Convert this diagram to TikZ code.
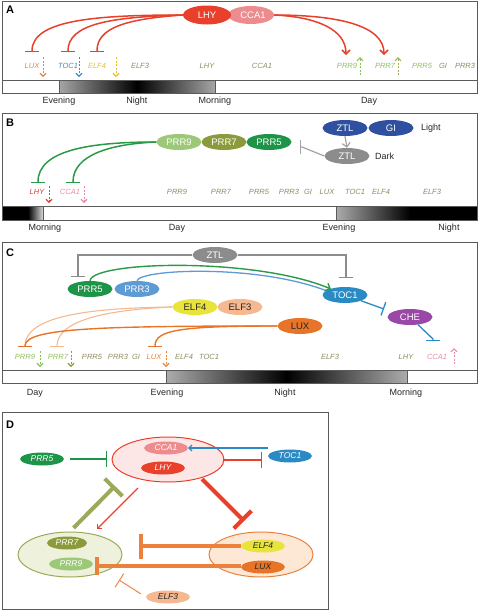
\documentclass[tikz,border=0pt]{standalone}
\usepackage{fontspec}
\setmainfont{Liberation Sans}
\usetikzlibrary{shapes.geometric,arrows.meta}
\definecolor{framec}{HTML}{5A5A5A}
\definecolor{lhyred}{HTML}{E8402A}
\definecolor{ccapink}{HTML}{EC8C8E}
\definecolor{olv}{HTML}{8E8B60}
\definecolor{grnt}{HTML}{8DBF5E}
\definecolor{luxt}{HTML}{E8843A}
\definecolor{toct}{HTML}{3D8CC8}
\definecolor{elf4t}{HTML}{E6C02C}
\definecolor{ccat}{HTML}{E68AA6}
\definecolor{lhyt}{HTML}{D83A30}
\definecolor{ltgreen}{HTML}{9CC878}
\definecolor{prrolive}{HTML}{8C9A3C}
\definecolor{prrgreen}{HTML}{1E9448}
\definecolor{inhgreen}{HTML}{2A9A48}
\definecolor{ztlblue}{HTML}{2F4FA0}
\definecolor{ztlgray}{HTML}{8C8C8C}
\definecolor{tocblue}{HTML}{2A8AC4}
\definecolor{prr3blue}{HTML}{5E9AD4}
\definecolor{elf4yel}{HTML}{E8E43C}
\definecolor{elf3peach}{HTML}{F6B890}
\definecolor{luxor}{HTML}{E87428}
\definecolor{chepur}{HTML}{9A48A8}
\definecolor{pinkfill}{HTML}{FDE6E6}
\definecolor{olivefill}{HTML}{EEF1DC}
\definecolor{orfill}{HTML}{FDE8D6}
\begin{document}
\begin{tikzpicture}[x=1pt,y=-1pt,
  framebox/.style={draw=framec, line width=0.9pt},
  plabel/.style={font=\fontsize{11}{13}\selectfont\bfseries, inner sep=0pt},
  tlabel/.style={font=\fontsize{9}{11}\selectfont, text=black!85, inner sep=0pt},
  gene/.style={font=\fontsize{7.5}{9}\selectfont\itshape, inner sep=0pt},
  prot/.style={ellipse, inner sep=0pt, minimum width=45pt, minimum height=16pt, font=\fontsize{9.5}{11}\selectfont, text=white},
  dprot/.style={ellipse, inner sep=0pt, minimum width=44pt, minimum height=13pt, font=\fontsize{8.5}{10}\selectfont\itshape, text=white},
  bigell/.style={ellipse, inner sep=0pt, line width=1pt, minimum width=104pt, minimum height=45pt},
  inh/.style={-{Bar[width=14pt]}},
  act/.style={-{Straight Barb[length=4pt,width=8pt]}},
  sact/.style={-{Straight Barb[length=3pt,width=6pt]}},
  dashar/.style={dash pattern=on 2pt off 1.5pt, line width=0.9pt, -{Straight Barb[length=3pt,width=6pt,line width=1.1pt]}},
]
\useasboundingbox (0,0) rectangle (479,611);

% ================= Panel A =================
\shade[left color=gray!70, right color=gray!70, middle color=black] (59,80) rectangle (215,93);
\draw[framebox] (2,1) rectangle (477,93);
\draw[framebox] (2,80) -- (477,80);
\draw[framec, line width=0.6pt] (59,80) -- (59,93) (215,80) -- (215,93);
\node[plabel] (labA) at (10,10) {A};
\node[tlabel] (eveA) at (59,101) {Evening};
\node[tlabel] (nigA) at (137,101) {Night};
\node[tlabel] (morA) at (215,101) {Morning};
\node[tlabel] (dayA) at (369,101) {Day};

\node[gene, text=luxt] (gLUXa) at (32,66) {LUX};
\node[gene, text=toct] (gTOCa) at (68,66) {TOC1};
\node[gene, text=elf4t] (gELF4a) at (97,66) {ELF4};
\node[gene, text=olv] (gELF3a) at (140,66) {ELF3};
\node[gene, text=olv] (gLHYa) at (207,66) {LHY};
\node[gene, text=olv] (gCCAa) at (262,66) {CCA1};
\node[gene, text=grnt] (gPRR9a) at (347,66) {PRR9};
\node[gene, text=grnt] (gPRR7a) at (385,66) {PRR7};
\node[gene, text=grnt] (gPRR5a) at (422,66) {PRR5};
\node[gene, text=olv] (gGIa) at (443,66) {GI};
\node[gene, text=olv] (gPRR3a) at (465,66) {PRR3};

\coordinate (dA1s) at (43,57); \coordinate (dA1e) at (43,77);
\coordinate (dA2s) at (79,57); \coordinate (dA2e) at (79,77);
\coordinate (dA3s) at (116,57); \coordinate (dA3e) at (116,77);
\coordinate (dA4s) at (360,75); \coordinate (dA4e) at (360,57);
\coordinate (dA5s) at (398,75); \coordinate (dA5e) at (398,57);
\draw[dashar, luxt] (dA1s) -- (dA1e);
\draw[dashar, toct] (dA2s) -- (dA2e);
\draw[dashar, elf4t] (dA3s) -- (dA3e);
\draw[dashar, grnt] (dA4s) -- (dA4e);
\draw[dashar, prrolive!80] (dA5s) -- (dA5e);

\node[prot, fill=ccapink, minimum width=46pt, minimum height=18pt] (CCAa) at (251,15) {\hspace*{4pt}CCA1};
\node[prot, fill=lhyred, minimum width=48pt, minimum height=19pt] (LHYa) at (207,15) {LHY};

\coordinate (tLUXa) at (32,52);
\coordinate (tTOCa) at (68,52);
\coordinate (tELF4a) at (97,52);
\draw[inh, lhyred, line width=1.5pt] (LHYa.west) .. controls (95,15) and (32,20) .. (tLUXa);
\draw[inh, lhyred, line width=1.5pt] (LHYa.west) .. controls (110,17) and (68,24) .. (tTOCa);
\draw[inh, lhyred, line width=1.5pt] (LHYa.west) .. controls (125,19) and (97,28) .. (tELF4a);
\coordinate (aPRR9a) at (346,55);
\coordinate (aPRR7a) at (384,55);
\draw[act, lhyred, line width=1.5pt] (CCAa.east) .. controls (318,17) and (346,30) .. (aPRR9a);
\draw[act, lhyred, line width=1.5pt] (CCAa.east) .. controls (340,15) and (384,26) .. (aPRR7a);

% ================= Panel B =================
\fill[black] (2,206) rectangle (28,220);
\shade[left color=black, right color=gray!30] (28,206) rectangle (43,220);
\shade[left color=gray!65, right color=black] (336,206) rectangle (410,220);
\fill[black] (410,206) rectangle (477,220);
\draw[framebox] (2,113) rectangle (477,220);
\draw[framebox] (2,206) -- (477,206);
\draw[framec, line width=0.6pt] (43,206) -- (43,220) (336,206) -- (336,220);
\node[plabel] (labB) at (10,123) {B};
\node[tlabel] (morB) at (45,228) {Morning};
\node[tlabel] (dayB) at (177,228) {Day};
\node[tlabel] (eveB) at (339,228) {Evening};
\node[tlabel] (nigB) at (449,228) {Night};

\node[gene, text=lhyt] (gLHYb) at (37,192) {LHY};
\node[gene, text=ccat] (gCCAb) at (70,192) {CCA1};
\node[gene, text=olv] (gPRR9b) at (177,192) {PRR9};
\node[gene, text=olv] (gPRR7b) at (221,192) {PRR7};
\node[gene, text=olv] (gPRR5b) at (259,192) {PRR5};
\node[gene, text=olv] (gPRR3b) at (289,192) {PRR3};
\node[gene, text=olv] (gGIb) at (308,192) {GI};
\node[gene, text=olv] (gLUXb) at (327,192) {LUX};
\node[gene, text=olv] (gTOCb) at (355,192) {TOC1};
\node[gene, text=olv] (gELF4b) at (381,192) {ELF4};
\node[gene, text=olv] (gELF3b) at (432,192) {ELF3};

\coordinate (dB1s) at (49,186); \coordinate (dB1e) at (49,203);
\coordinate (dB2s) at (84,186); \coordinate (dB2e) at (84,203);
\draw[dashar, lhyred] (dB1s) -- (dB1e);
\draw[dashar, ccat] (dB2s) -- (dB2e);

\node[prot, fill=ltgreen] (PRR9b) at (179,142) {PRR9};
\node[prot, fill=prrolive] (PRR7b) at (224,142) {PRR7};
\node[prot, fill=prrgreen] (PRR5b) at (269,142) {PRR5};
\node[prot, fill=ztlblue] (ZTLb) at (345,128) {ZTL};
\node[prot, fill=ztlblue] (GIb) at (391,128) {GI};
\node[tlabel, anchor=west] (lightB) at (421,128) {Light};
\node[prot, fill=ztlgray] (ZTLdb) at (347,156) {ZTL};
\node[tlabel, anchor=west] (darkB) at (375,156) {Dark};
\draw[act, ztlgray!80, line width=1.2pt] (ZTLb.south) -- (ZTLdb.north);
\coordinate (kPRR5b) at (302,147);
\coordinate (tPRR5b) at (300,147);
\draw[inh, ztlgray!80, line width=1.2pt] (ZTLdb.west) -- (kPRR5b) -- (tPRR5b);

\coordinate (tLHYb) at (38,183);
\coordinate (tCCAb) at (73,183);
\draw[inh, inhgreen, line width=1.5pt] (PRR9b.west) .. controls (90,142) and (38,150) .. (tLHYb);
\draw[inh, inhgreen, line width=1.5pt] (PRR9b.west) .. controls (110,144) and (73,155) .. (tCCAb);

% ================= Panel C =================
\shade[left color=gray!65, right color=gray!65, middle color=black] (166,370) rectangle (407,383);
\draw[framebox] (2,242) rectangle (477,383);
\draw[framebox] (2,370) -- (477,370);
\draw[framec, line width=0.6pt] (166,370) -- (166,383) (407,370) -- (407,383);
\node[plabel] (labC) at (10,253) {C};
\node[tlabel] (dayC) at (35,393) {Day};
\node[tlabel] (eveC) at (167,393) {Evening};
\node[tlabel] (nigC) at (285,393) {Night};
\node[tlabel] (morC) at (406,393) {Morning};

\node[gene, text=grnt] (gPRR9c) at (25,357) {PRR9};
\node[gene, text=grnt] (gPRR7c) at (58,357) {PRR7};
\node[gene, text=olv] (gPRR5c) at (92,357) {PRR5};
\node[gene, text=olv] (gPRR3c) at (118,357) {PRR3};
\node[gene, text=olv] (gGIc) at (136,357) {GI};
\node[gene, text=luxt] (gLUXc) at (154,357) {LUX};
\node[gene, text=olv] (gELF4c) at (184,357) {ELF4};
\node[gene, text=olv] (gTOCc) at (209,357) {TOC1};
\node[gene, text=olv] (gELF3c) at (330,357) {ELF3};
\node[gene, text=olv] (gLHYc) at (406,357) {LHY};
\node[gene, text=ccat] (gCCAc) at (437,357) {CCA1};

\coordinate (dC1s) at (40,351); \coordinate (dC1e) at (40,367);
\coordinate (dC2s) at (71,351); \coordinate (dC2e) at (71,367);
\coordinate (dC3s) at (166,351); \coordinate (dC3e) at (166,367);
\coordinate (dC4s) at (454,364); \coordinate (dC4e) at (454,348);
\draw[dashar, grnt] (dC1s) -- (dC1e);
\draw[dashar, prrolive] (dC2s) -- (dC2e);
\draw[dashar, luxt] (dC3s) -- (dC3e);
\draw[dashar, ccat] (dC4s) -- (dC4e);

\node[prot, fill=ztlgray] (ZTLc) at (215,255) {ZTL};
\node[prot, fill=prrgreen] (PRR5c) at (90,289) {PRR5};
\node[prot, fill=prr3blue] (PRR3c) at (137,289) {PRR3};
\node[prot, fill=tocblue] (TOCc) at (345,295) {TOC1};
\node[prot, fill=chepur] (CHEc) at (410,317) {CHE};
\node[prot, fill=elf3peach, text=black!85] (ELF3c) at (240,307) {ELF3};
\node[prot, fill=elf4yel, text=black!85] (ELF4c) at (195,307) {ELF4};
\node[prot, fill=luxor, text=black!85] (LUXc) at (300,326) {LUX};

\coordinate (gcL) at (78,255); \coordinate (tPRR5c) at (78,277);
\coordinate (gcR) at (346,255); \coordinate (tTOCc) at (346,278);
\draw[inh, ztlgray, line width=1.3pt] (ZTLc.west) -- (gcL) -- (tPRR5c);
\draw[inh, ztlgray, line width=1.3pt] (ZTLc.east) -- (gcR) -- (tTOCc);

\coordinate (bTOCc) at (327,291);
\coordinate (aTOCc) at (331,289);
\draw[prr3blue, line width=1.3pt] (PRR3c.north) .. controls (140,269) and (258,264) .. (bTOCc);
\draw[act, inhgreen, line width=1.4pt] (PRR5c.north) .. controls (92,261) and (255,257) .. (aTOCc);

\coordinate (tCHEc) at (384,309);
\draw[inh, tocblue, line width=1.3pt] (TOCc) -- (tCHEc);
\coordinate (kCCAc) at (433,339);
\coordinate (tCCAc) at (433,341);
\draw[inh, tocblue, line width=1.3pt] (CHEc) -- (kCCAc) -- (tCCAc);

\coordinate (tPRR9c) at (25,347);
\coordinate (tPRR7c) at (57,347);
\coordinate (tLUXc) at (155,347);
\draw[inh, elf3peach, line width=1.1pt] (ELF4c.west) .. controls (80,308) and (25,318) .. (tPRR9c);
\draw[inh, elf3peach, line width=1.1pt] (ELF4c.west) .. controls (100,310) and (57,322) .. (tPRR7c);
\draw[inh, luxor, line width=1.4pt] (LUXc.west) .. controls (100,326) and (25,328) .. (tPRR9c);
\draw[inh, luxor, line width=1.4pt] (LUXc.west) .. controls (180,326) and (155,330) .. (tLUXc);

% ================= Panel D =================
\draw[framebox] (2,412) rectangle (328,609);
\node[plabel] (labD) at (10,425) {D};

\node[bigell, draw=lhyred, fill=pinkfill, minimum width=112pt] (topD) at (168,459.5) {};
\node[dprot, fill=ccapink] (CCAd) at (166,448) {CCA1};
\node[dprot, fill=lhyred] (LHYd) at (163,468) {LHY};
\node[bigell, draw=prrolive!85, fill=olivefill] (leftD) at (70,554.5) {};
\node[dprot, fill=prrolive, minimum width=40pt] (PRR7d) at (67,543) {PRR7};
\node[dprot, fill=ltgreen] (PRR9d) at (71,564) {PRR9};
\node[bigell, draw=luxor!90, fill=orfill] (rightD) at (261,554.5) {};
\node[dprot, fill=elf4yel, text=black!85] (ELF4d) at (263,546) {ELF4};
\node[dprot, fill=luxor, text=black!85] (LUXd) at (263,567) {LUX};
\node[dprot, fill=prrgreen] (PRR5d) at (42,459) {PRR5};
\node[dprot, fill=tocblue] (TOCd) at (290,456) {TOC1};
\node[dprot, fill=elf3peach, text=black!85] (ELF3d) at (168,597) {ELF3};

\coordinate (tTopL) at (107,459);
\draw[prrgreen, line width=1.1pt, -{Bar[width=16pt]}, shorten <=6pt] (PRR5d.east) -- (tTopL);
\draw[sact, tocblue, line width=1.1pt] (TOCd.west |- CCAd.east) -- (CCAd.east);
\coordinate (tTOCd) at (262,460);
\coordinate (sTOCd) at (223,460);
\draw[color=lhyred, line width=1.2pt, -{Bar[width=16pt]}] (sTOCd) -- (tTOCd);

\coordinate (tTopO) at (115,486);
\draw[prrolive!85, line width=4pt, -{Bar[width=25pt]}, shorten <=5pt] (leftD.north) -- (tTopO);
\coordinate (rS) at (138,488);
\coordinate (rE) at (97,529);
\draw[sact, lhyred, line width=1.1pt] (rS) -- (rE);
\coordinate (rtS) at (202,479);
\coordinate (tRightD) at (244,521);
\draw[lhyred, line width=4pt, -{Bar[width=25pt]}] (rtS) -- (tRightD);
\coordinate (tPRR7d) at (139,546);
\draw[luxor!90, line width=3.5pt, -{Bar[width=25pt]}] (ELF4d.west) -- (tPRR7d);
\coordinate (tPRR9d) at (95,566);
\draw[luxor!90, line width=3.5pt, -{Bar[width=18pt]}] (LUXd.west |- tPRR9d) -- (tPRR9d);
\coordinate (tELF3d) at (119,580);
\draw[luxor!80, line width=1.1pt, -{Bar[width=16pt]}, shorten <=6pt] (ELF3d.west) -- (tELF3d);
\end{tikzpicture}
\end{document}
